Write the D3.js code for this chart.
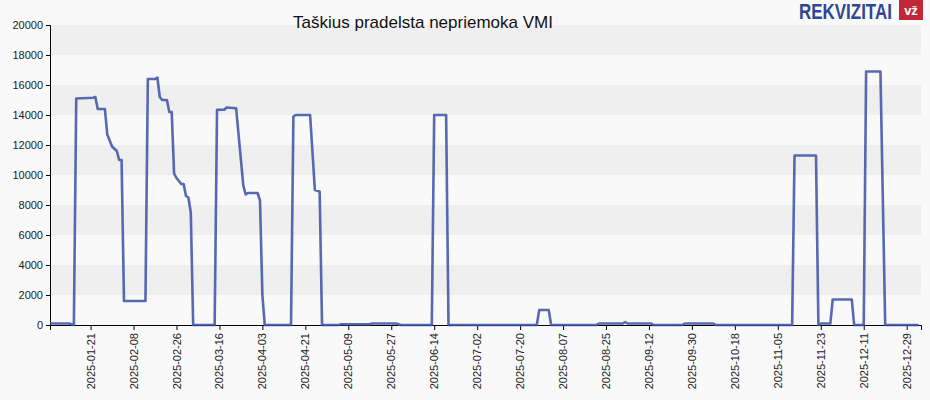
<!DOCTYPE html>
<html><head><meta charset="utf-8">
<script src="https://cdn.jsdelivr.net/npm/d3@7"></script>
<style>body{margin:0;background:#f9f9f9;font-family:Arial,"Liberation Sans",sans-serif}</style>
</head><body><svg id="c" width="930" height="400"></svg>
<script>
const title = "Taškius pradelsta nepriemoka VMI";
const dates = ["2025-01-04","2025-01-12","2025-01-14","2025-01-15","2025-01-22","2025-01-23","2025-01-24","2025-01-27","2025-01-28","2025-01-30","2025-02-01","2025-02-02","2025-02-03","2025-02-04","2025-02-13","2025-02-14","2025-02-17","2025-02-18","2025-02-19","2025-02-20","2025-02-22","2025-02-23","2025-02-24","2025-02-25","2025-02-26","2025-02-28","2025-03-01","2025-03-02","2025-03-03","2025-03-04","2025-03-05","2025-03-14","2025-03-15","2025-03-18","2025-03-19","2025-03-23","2025-03-26","2025-03-27","2025-03-28","2025-04-01","2025-04-02","2025-04-03","2025-04-04","2025-04-15","2025-04-16","2025-04-17","2025-04-23","2025-04-25","2025-04-27","2025-04-28","2025-05-05","2025-05-06","2025-05-18","2025-05-19","2025-05-29","2025-05-31","2025-06-13","2025-06-14","2025-06-19","2025-06-20","2025-07-27","2025-07-28","2025-08-01","2025-08-02","2025-08-21","2025-08-22","2025-09-01","2025-09-02","2025-09-03","2025-09-13","2025-09-14","2025-09-26","2025-09-27","2025-10-09","2025-10-10","2025-11-11","2025-11-12","2025-11-21","2025-11-22","2025-11-23","2025-11-27","2025-11-28","2025-12-06","2025-12-07","2025-12-11","2025-12-12","2025-12-18","2025-12-20","2026-01-03"];
const values = [100,100,0,15100,15150,15200,14400,14400,12700,11900,11600,11000,11000,1600,1600,16400,16400,16500,15200,15000,15000,14200,14200,10100,9800,9400,9400,8600,8500,7500,0,0,14350,14350,14500,14450,9300,8700,8800,8800,8300,2000,0,0,13900,14000,14000,9000,8900,0,0,50,50,100,100,0,0,14000,14000,0,0,1000,1000,0,0,100,100,200,100,100,0,0,100,100,0,0,11300,11300,0,100,100,1700,1700,0,0,16900,16900,0,0];
const yTicks = [0,2000,4000,6000,8000,10000,12000,14000,16000,18000,20000];
const xTickLabels = ["2025-01-21","2025-02-08","2025-02-26","2025-03-16","2025-04-03","2025-04-21","2025-05-09","2025-05-27","2025-06-14","2025-07-02","2025-07-20","2025-08-07","2025-08-25","2025-09-12","2025-09-30","2025-10-18","2025-11-05","2025-11-23","2025-12-11","2025-12-29"];

const parse = d3.utcParse("%Y-%m-%d");
const data = dates.map((d,i)=>({d:parse(d),v:values[i]}));
const svg = d3.select("#c");
const L=50,R=921,T=25,B=325;
const x = d3.scaleUtc().domain([parse("2025-01-04"),parse("2026-01-04")]).range([L,R]);
const y = d3.scaleLinear().domain([0,20000]).range([B,T]);

for(let i=0;i<yTicks.length-1;i++){
  svg.append("rect").attr("x",L).attr("width",R-L)
    .attr("y",y(yTicks[i+1])).attr("height",y(yTicks[i])-y(yTicks[i+1]))
    .attr("fill", (i%2===1)?"#efefef":"#f9f9f9");
}
const ya = svg.append("g").attr("transform",`translate(${L},0)`)
  .call(d3.axisLeft(y).tickValues(yTicks).tickSize(4).tickFormat(d3.format("d")));
ya.selectAll("text").attr("font-size",11).attr("fill","#222").attr("font-family","Arial,'Liberation Sans',sans-serif");
ya.select(".domain").attr("stroke","#000");
const xa = svg.append("g").attr("transform",`translate(0,${B})`)
  .call(d3.axisBottom(x).tickValues(xTickLabels.map(parse)).tickSize(5).tickFormat(d3.utcFormat("%Y-%m-%d")));
xa.select(".domain").attr("stroke","#000");
xa.selectAll("text").attr("font-size",11).attr("fill","#222").attr("font-family","Arial,'Liberation Sans',sans-serif")
  .attr("transform","rotate(-90)").attr("text-anchor","end").attr("dx","-8").attr("x",0).attr("y",0).attr("dy","0.32em");

svg.append("path").datum(data)
  .attr("d",d3.line().x(d=>x(d.d)).y(d=>y(d.v)))
  .attr("fill","none").attr("stroke","#3a50a4").attr("stroke-width",2.6).attr("stroke-opacity",0.85).attr("stroke-linejoin","round");

svg.append("text").attr("x",423).attr("y",28).attr("text-anchor","middle")
  .attr("font-size",17).attr("fill","#111").text(title);
const logo = svg.append("text").attr("font-size",22).attr("font-weight","bold")
  .attr("font-family","'Liberation Sans',Arial,sans-serif")
  .attr("fill","#2f4596").text("REKVIZITAI");
const w = logo.node().getComputedTextLength();
logo.attr("transform",`translate(799,19) scale(${93/w},1)`);
svg.append("rect").attr("x",899).attr("y",0).attr("width",24).attr("height",20).attr("fill","#c0283a");
svg.append("text").attr("x",911).attr("y",15).attr("text-anchor","middle").attr("font-size",13).attr("font-weight","bold").attr("fill","#fff").text("vž");
</script></body></html>
